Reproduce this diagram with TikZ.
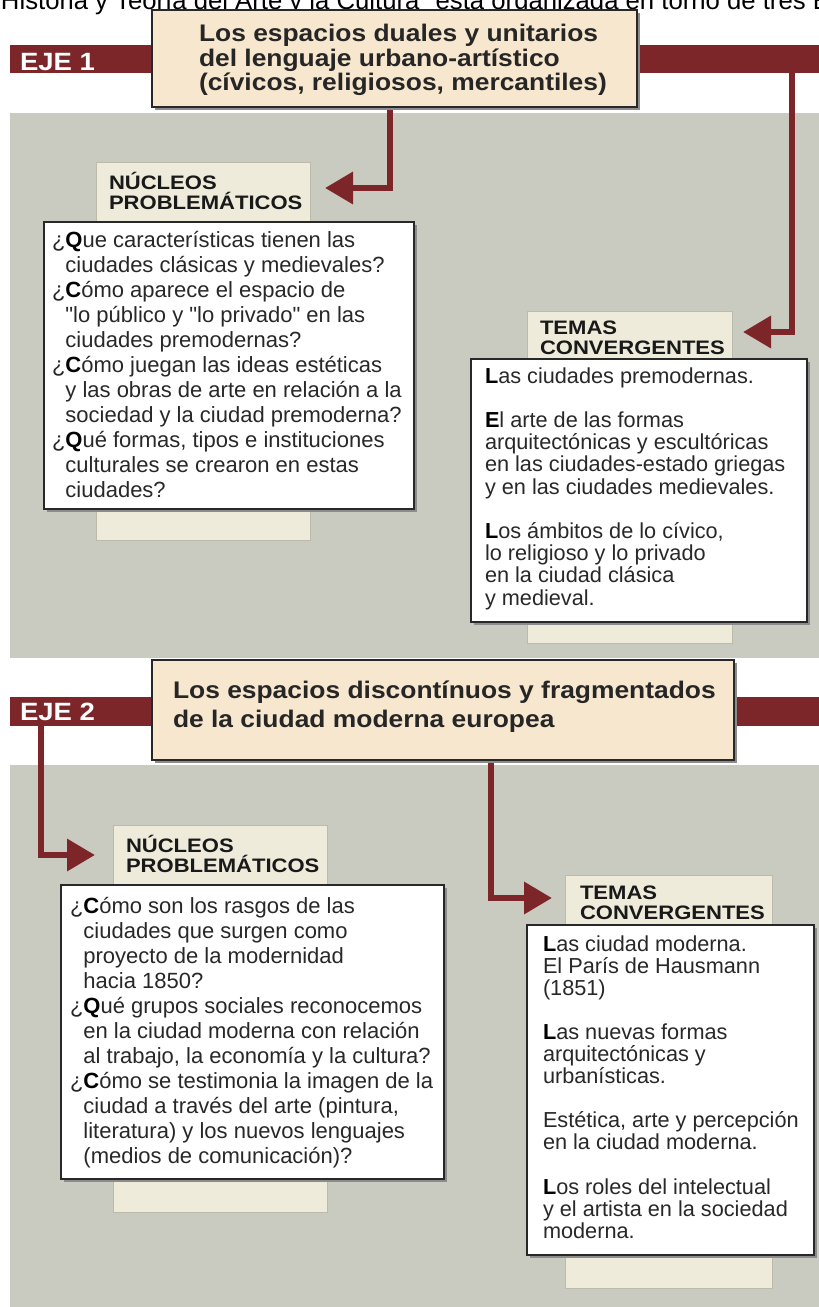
\documentclass[tikz,border=0pt]{standalone}
\usepackage{fontspec}
\setmainfont{Liberation Sans}
\newfontfamily\bodyf{Liberation Sans}
\newfontfamily\titlef{Liberation Sans}[FakeStretch=1.1]
\newfontfamily\headf{Liberation Sans}[FakeStretch=1.13]
\usetikzlibrary{arrows.meta}
\definecolor{eje}{RGB}{124,38,42}
\definecolor{panel}{RGB}{201,202,192}
\definecolor{titlebg}{RGB}{246,231,206}
\definecolor{headbg}{RGB}{238,235,219}
\definecolor{headln}{RGB}{188,186,170}
\definecolor{ink}{RGB}{40,40,40}
\definecolor{boxln}{RGB}{40,40,40}
\newcommand{\st}{\rule{0pt}{20pt}}
\newcommand{\qq}{\hphantom{¿}}
\newcommand{\bl}[1]{\textbf{\color{black}#1}}
\tikzset{
  box/.style={anchor=north west, inner sep=0pt, outer sep=0pt},
  panelbox/.style={box, fill=panel},
  bandbox/.style={box, fill=eje},
  titlebox/.style={box, fill=titlebg, draw=boxln, line width=1.6pt},
  headbox/.style={box, fill=headbg, draw=headln, line width=0.8pt},
  whitebox/.style={box, fill=white, draw=boxln, line width=1.8pt},
  shadowbox/.style={box, fill=black!45},
  txt/.style={anchor=north west, inner sep=0pt, outer sep=0pt, align=left, text=ink},
  bodytxt/.style={txt, font=\bodyf\fontsize{22}{25}\selectfont},
  temtxt/.style={txt, font=\bodyf\fontsize{21.7}{22.2}\selectfont},
  headtxt/.style={txt, text=black!90, font=\headf\bfseries\fontsize{19.5}{20}\selectfont},
  titletxt/.style={txt, text=black!85, font=\titlef\bfseries\fontsize{24}{24.5}\selectfont},
  ejetxt/.style={txt, text=white, font=\titlef\bfseries\fontsize{25}{25}\selectfont},
  arrowline/.style={draw=eje, line width=6.5pt, -{Triangle[length=28pt,width=31pt]}}
}
\begin{document}
\begin{tikzpicture}[x=1pt,y=-1pt]
\useasboundingbox (0,0) rectangle (819,1307);
\clip (0,0) rectangle (819,1307);
\fill[white] (0,0) rectangle (819,1307);

% top cut text
\node[txt, text=black, font=\bodyf\fontsize{25.7}{28}\selectfont] (toptext) at (1,-10.5)
  {\st Historia y Teoría del Arte y la Cultura" está organizada en torno de tres E};

% panels and bands
\node[panelbox, minimum width=809pt, minimum height=545pt] (panel1) at (10,113) {};
\node[panelbox, minimum width=809pt, minimum height=545pt] (panel2) at (10,765) {};
\node[bandbox, minimum width=809pt, minimum height=28pt] (band1) at (10,45) {};
\node[bandbox, minimum width=809pt, minimum height=29pt] (band2) at (10,697) {};

% arrow coordinates
\coordinate (a1s) at (390,100);
\coordinate (a1e) at (325,188);
\coordinate (a2s) at (792,60);
\coordinate (a2e) at (743,332);
\coordinate (a3s) at (41,715);
\coordinate (a3e) at (95,855);
\coordinate (a4s) at (491,750);
\coordinate (a4e) at (552,898);
\draw[arrowline] (a1s) |- (a1e);
\draw[arrowline] (a2s) |- (a2e);
\draw[arrowline] (a3s) |- (a3e);
\draw[arrowline] (a4s) |- (a4e);

% title boxes
\node[shadowbox, minimum width=485pt, minimum height=97pt] (title1sh) at (154.5,12.5) {};
\node[titlebox, minimum width=485pt, minimum height=97pt] (title1) at (152,10) {};
\node[shadowbox, minimum width=582pt, minimum height=100pt] (title2sh) at (154.5,662.5) {};
\node[titlebox, minimum width=582pt, minimum height=100pt] (title2) at (152,660) {};

\node[ejetxt] (eje1) at (20,50.5) {\st EJE 1};
\node[ejetxt] (eje2) at (20,700.5) {\st EJE 2};

\node[titletxt] (title1txt) at (199,21.5) {\st Los espacios duales y unitarios\\del lenguaje urbano-artístico\\(cívicos, religiosos, mercantiles)};
\node[titletxt, font=\titlef\bfseries\fontsize{24}{29}\selectfont] (title2txt) at (173,678) {\st Los espacios discontínuos y fragmentados\\de la ciudad moderna europea};

% heading boxes (beige)
\node[headbox, minimum width=214pt, minimum height=378pt] (nuc1) at (96,162) {};
\node[headbox, minimum width=205pt, minimum height=332pt] (tem1) at (527,311) {};
\node[headbox, minimum width=214pt, minimum height=387pt] (nuc2) at (113,825) {};
\node[headbox, minimum width=207pt, minimum height=413pt] (tem2) at (565,875) {};

\node[headtxt] (nuc1h) at (109,169) {\st NÚCLEOS\\PROBLEMÁTICOS};
\node[headtxt] (tem1h) at (540,314) {\st TEMAS\\CONVERGENTES};
\node[headtxt] (nuc2h) at (126,832) {\st NÚCLEOS\\PROBLEMÁTICOS};
\node[headtxt] (tem2h) at (580,879) {\st TEMAS\\CONVERGENTES};

% white boxes
\node[shadowbox, minimum width=370pt, minimum height=287pt] (nuc1wsh) at (46.5,224.5) {};
\node[whitebox, minimum width=370pt, minimum height=287pt] (nuc1w) at (44,222) {};
\node[shadowbox, minimum width=336pt, minimum height=263pt] (tem1wsh) at (473.5,361.5) {};
\node[whitebox, minimum width=336pt, minimum height=263pt] (tem1w) at (471,359) {};
\node[shadowbox, minimum width=383pt, minimum height=294pt] (nuc2wsh) at (63.5,887.5) {};
\node[whitebox, minimum width=383pt, minimum height=294pt] (nuc2w) at (61,885) {};
\node[shadowbox, minimum width=287pt, minimum height=330pt] (tem2wsh) at (529.5,927.5) {};
\node[whitebox, minimum width=287pt, minimum height=330pt] (tem2w) at (527,925) {};

% texts
\node[bodytxt] (nuc1t) at (52,227) {\st ¿\bl{Q}ue características tienen las\\
\qq ciudades clásicas y medievales?\\
¿\bl{C}ómo aparece el espacio de\\
\qq "lo público y "lo privado" en las\\
\qq ciudades premodernas?\\
¿\bl{C}ómo juegan las ideas estéticas\\
\qq y las obras de arte en relación a la\\
\qq sociedad y la ciudad premoderna?\\
¿\bl{Q}ué formas, tipos e instituciones\\
\qq culturales se crearon en estas\\
\qq ciudades?};

\node[temtxt] (tem1t) at (485,363) {\st \bl{L}as ciudades premodernas.\\[22.2pt]
\bl{E}l arte de las formas\\
arquitectónicas y escultóricas\\
en las ciudades-estado griegas\\
y en las ciudades medievales.\\[22.2pt]
\bl{L}os ámbitos de lo cívico,\\
lo religioso y lo privado\\
en la ciudad clásica\\
y medieval.};

\node[bodytxt] (nuc2t) at (70,893) {\st ¿\bl{C}ómo son los rasgos de las\\
\qq ciudades que surgen como\\
\qq proyecto de la modernidad\\
\qq hacia 1850?\\
¿\bl{Q}ué grupos sociales reconocemos\\
\qq en la ciudad moderna con relación\\
\qq al trabajo, la economía y la cultura?\\
¿\bl{C}ómo se testimonia la imagen de la\\
\qq ciudad a través del arte (pintura,\\
\qq literatura) y los nuevos lenguajes\\
\qq (medios de comunicación)?};

\node[temtxt, font=\bodyf\fontsize{21.7}{22.1}\selectfont] (tem2t) at (543,931) {\st \bl{L}as ciudad moderna.\\
El París de Hausmann\\
(1851)\\[22.1pt]
\bl{L}as nuevas formas\\
arquitectónicas y\\
urbanísticas.\\[22.1pt]
Estética, arte y percepción\\
en la ciudad moderna.\\[22.1pt]
\bl{L}os roles del intelectual\\
y el artista en la sociedad\\
moderna.};
\end{tikzpicture}
\end{document}
